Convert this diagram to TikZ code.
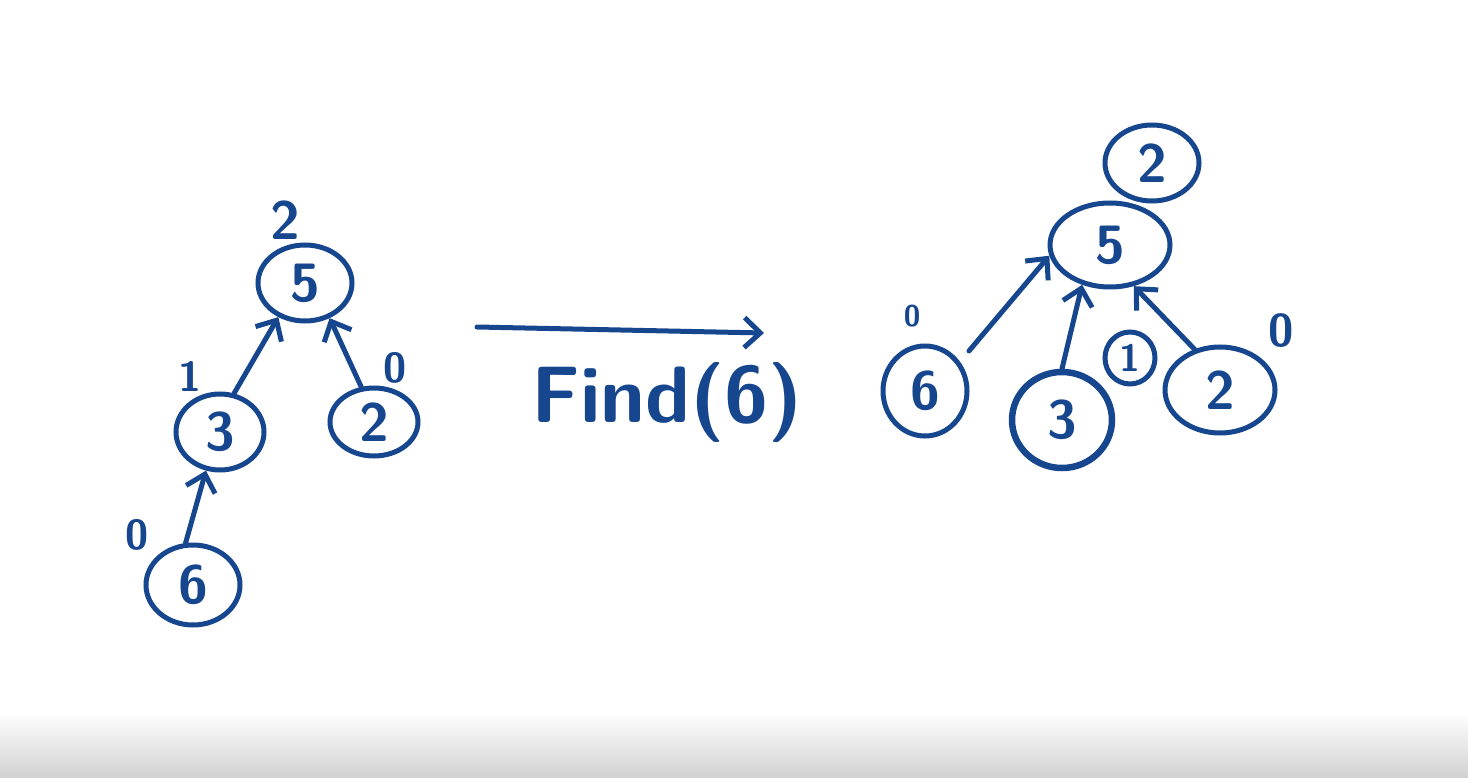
\documentclass[tikz,border=0pt]{standalone}
\usetikzlibrary{shapes.geometric,arrows.meta}
\definecolor{ink}{RGB}{22,70,142}
\begin{document}
\begin{tikzpicture}[x=1pt,y=-1pt,
  ink/.style={draw=ink,line width=5pt},
  vertex/.style={ellipse,ink,inner sep=0pt,text=ink,font=\sffamily\bfseries\fontsize{54}{56}\selectfont},
  rank/.style={text=ink,inner sep=0pt},
  arr/.style={ink,line cap=round,-{Straight Barb[length=16pt,width=30pt,line width=5pt]}}]
\useasboundingbox (0,0) rectangle (1468,778);
\shade[top color=white,bottom color=black!18] (0,712) rectangle (1468,778);
% left tree
\node[vertex,minimum width=94pt,minimum height=76pt] (l5) at (305,283) {5};
\node[vertex,minimum width=88pt,minimum height=76pt] (l3) at (220,432) {3};
\node[vertex,minimum width=88pt,minimum height=68pt] (l2) at (374,422) {2};
\node[vertex,minimum width=94pt,minimum height=80pt] (l6) at (193,585) {6};
\node[rank,font=\sffamily\bfseries\fontsize{54}{56}\selectfont] (l5r) at (285,220) {2};
\node[rank,font=\sffamily\bfseries\fontsize{42}{44}\selectfont] (l3r) at (190,376) {1};
\node[rank,font=\sffamily\bfseries\fontsize{42}{44}\selectfont] (l2r) at (395,368) {0};
\node[rank,font=\sffamily\bfseries\fontsize{42}{44}\selectfont] (l6r) at (137,535) {0};
\draw[arr] (l3.70) -- (l5.232);
\draw[arr] (l2.110) -- (l5.305);
\draw[arr] (l6.100) -- (l3.250);
% middle arrow
\coordinate (fs) at (477,327);
\coordinate (fe) at (764,333);
\draw[arr] (fs) -- (fe);
\node[rank,font=\sffamily\bfseries\fontsize{80}{82}\selectfont] (find) at (667,402) {Find(6)};
% right tree
\node[vertex,minimum width=120pt,minimum height=84pt] (r5) at (1110,245) {5};
\node[vertex,minimum width=94pt,minimum height=76pt] (r5r) at (1152,163) {2};
\node[vertex,minimum width=84pt,minimum height=90pt] (r6) at (925,391) {6};
\node[vertex,line width=6.5pt,minimum width=100pt,minimum height=96pt] (r3) at (1062,420) {3};
\node[vertex,minimum width=50pt,minimum height=52pt,font=\sffamily\bfseries\fontsize{38}{40}\selectfont] (r3r) at (1130,358) {1};
\node[vertex,minimum width=110pt,minimum height=86pt] (r2) at (1220,390) {2};
\node[rank,font=\sffamily\bfseries\fontsize{30}{32}\selectfont] (r6r) at (912,316) {0};
\node[rank,font=\sffamily\bfseries\fontsize{46}{48}\selectfont] (r2r) at (1281,331) {0};
\draw[arr,shorten <=14pt] (r6.40) -- (r5.190);
\draw[arr] (r3.north) -- (r5.235);
\draw[arr] (r2.122) -- (r5.300);
\end{tikzpicture}
\end{document}
